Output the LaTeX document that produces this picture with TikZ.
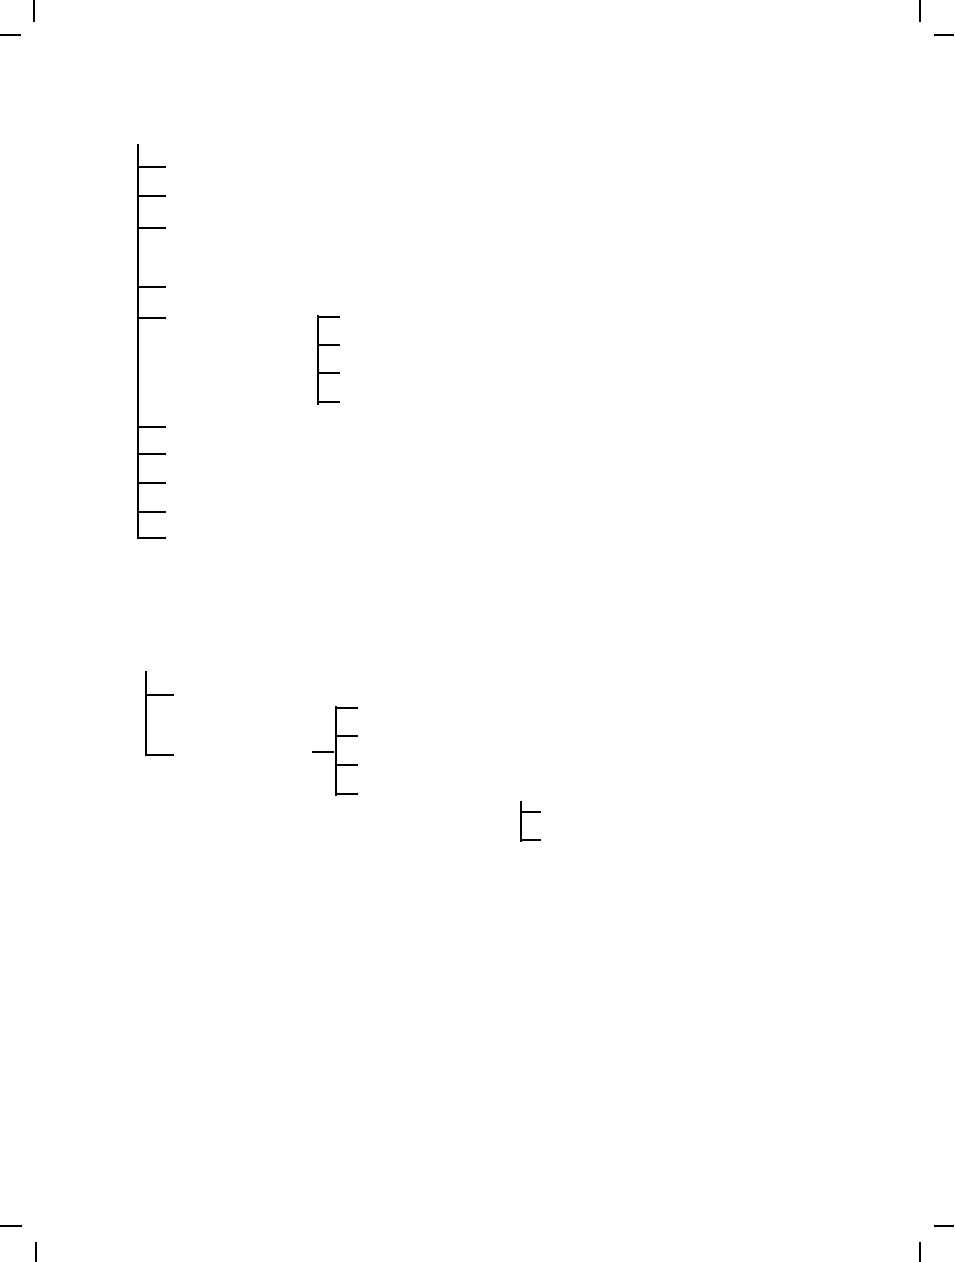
\documentclass[tikz,border=0pt]{standalone}
\begin{document}
\begin{tikzpicture}[x=1pt,y=-1pt,
  trunk/.style={line width=2pt,line cap=rect},
  twig/.style={line width=1.4pt},
  crop/.style={line width=1.4pt}]
\useasboundingbox (0,0) rectangle (954,1262);
% crop marks
\draw[crop] (34,0) -- (34,22);
\draw[crop] (0,35) -- (21,35);
\draw[crop] (920,0) -- (920,22);
\draw[crop] (934,35) -- (954,35);
\draw[crop] (0,1226) -- (22,1226);
\draw[crop] (36,1242) -- (36,1262);
\draw[crop] (934,1226) -- (954,1226);
\draw[crop] (920,1242) -- (920,1262);
% tree 1
\coordinate (t1top) at (138,145);
\coordinate (t1bot) at (138,538);
\draw[trunk] (t1top) -- (t1bot);
\foreach \y in {167,196,228,287,318,427,454,483,512,538}
  \draw[twig] (138,\y) -- (166,\y);
% tree 2
\coordinate (t2top) at (318,316);
\coordinate (t2bot) at (318,404);
\draw[trunk] (t2top) -- (t2bot);
\foreach \y in {317,345,373,402}
  \draw[twig] (318,\y) -- (340,\y);
% tree 3
\coordinate (t3top) at (146,672);
\coordinate (t3bot) at (146,755);
\draw[trunk] (t3top) -- (t3bot);
\foreach \y in {695,755}
  \draw[twig] (146,\y) -- (174,\y);
% tree 4
\coordinate (t4top) at (336,707);
\coordinate (t4bot) at (336,795);
\draw[trunk] (t4top) -- (t4bot);
\foreach \y in {708,736,765,794}
  \draw[twig] (336,\y) -- (358,\y);
\coordinate (t4stub) at (312,752);
\draw[twig] (t4stub) -- (334,752);
% tree 5
\coordinate (t5top) at (521,802);
\coordinate (t5bot) at (521,841);
\draw[trunk] (t5top) -- (t5bot);
\foreach \y in {812,840}
  \draw[twig] (521,\y) -- (541,\y);
\end{tikzpicture}
\end{document}
